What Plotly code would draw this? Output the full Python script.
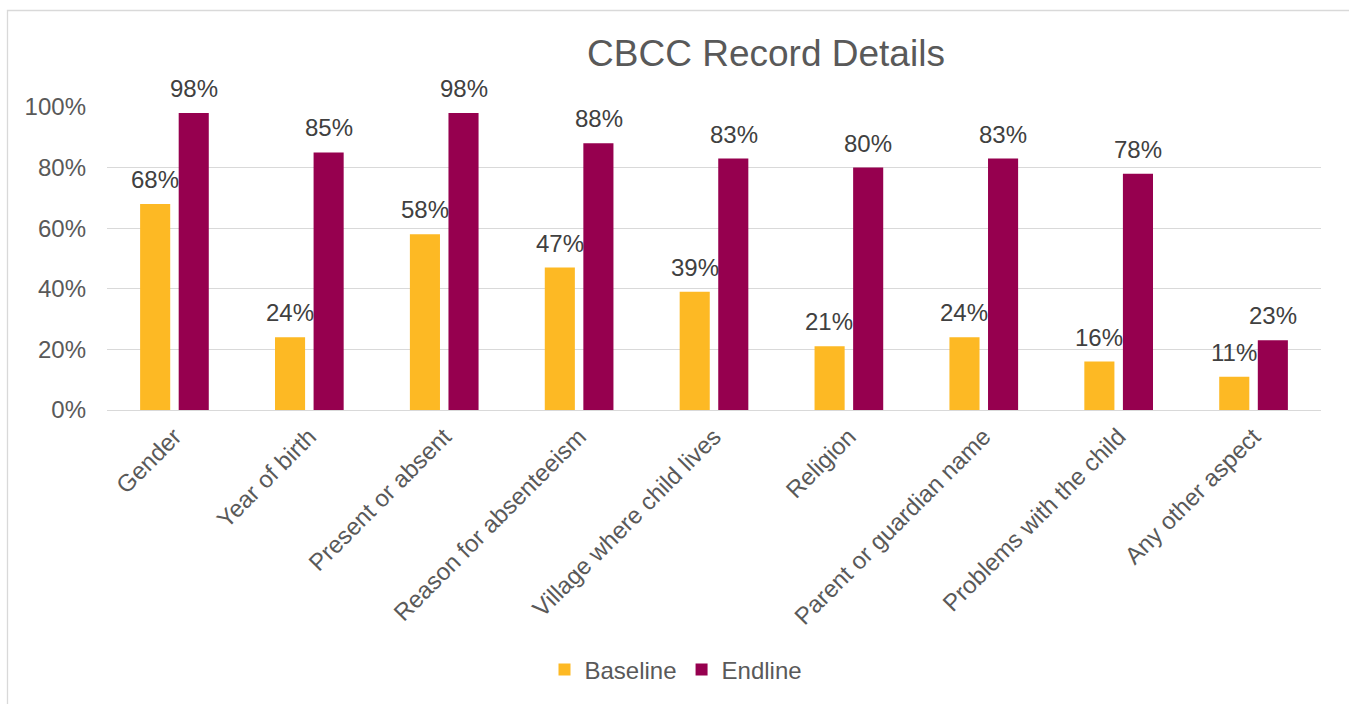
import plotly.graph_objects as go

categories = [
    "Gender", "Year of birth", "Present or absent", "Reason for absenteeism",
    "Village where child lives", "Religion", "Parent or guardian name",
    "Problems with the child", "Any other aspect",
]
baseline = [0.68, 0.24, 0.58, 0.47, 0.39, 0.21, 0.24, 0.16, 0.11]
endline = [0.98, 0.85, 0.98, 0.88, 0.83, 0.80, 0.83, 0.78, 0.23]
y_ticks = [0, 0.2, 0.4, 0.6, 0.8, 1.0]
y_tick_labels = ["0%", "20%", "40%", "60%", "80%", "100%"]

FONT = "Liberation Sans, Arial, sans-serif"
BASE_COLOR = "#FDB924"
END_COLOR = "#96004F"

W, H = 1349, 704
M_L, M_R, M_T, M_B = 107, 28, 107, 294
PW, PH = W - M_L - M_R, H - M_T - M_B

fig = go.Figure()
fig.add_trace(go.Bar(name="Baseline", x=categories, y=baseline,
                     marker=dict(color=BASE_COLOR, line=dict(width=0))))
fig.add_trace(go.Bar(name="Endline", x=categories, y=endline,
                     marker=dict(color=END_COLOR, line=dict(width=0))))

# value labels above each bar, shifted onto their bar within the group
annotations = []
for series, shift in ((baseline, -19.5), (endline, 19.5)):
    for cat, v in zip(categories, series):
        annotations.append(dict(
            x=cat, y=v, xref="x", yref="y", text=f"{round(v * 100)}%",
            showarrow=False, xanchor="center", yanchor="bottom",
            xshift=shift, yshift=9,
            font=dict(family=FONT, size=24, color="#404040"),
        ))

# thin outer frame of the chart area
def px_x(p):
    return (p - M_L) / PW

def px_y(p):
    return (H - M_B - p) / PH

shapes = [dict(type="rect", xref="paper", yref="paper",
               x0=px_x(7.5), x1=px_x(1370), y0=px_y(10.5), y1=px_y(730),
               line=dict(color="#D9D9D9", width=1.3), fillcolor="rgba(0,0,0,0)",
               layer="below")]

fig.update_layout(
    width=W, height=H,
    margin=dict(l=M_L, r=M_R, t=M_T, b=M_B, autoexpand=False),
    paper_bgcolor="white", plot_bgcolor="white",
    font=dict(family=FONT, size=24, color="#595959"),
    title=dict(text="CBCC Record Details", x=px_x(766), xanchor="center",
               xref="paper", y=1 - 53 / H, yanchor="middle",
               font=dict(family=FONT, size=37, color="#595959")),
    barmode="group", bargap=0.428, bargroupgap=0.22,
    showlegend=True,
    legend=dict(orientation="h", x=px_x(676), xanchor="center",
                y=px_y(670), yanchor="middle",
                font=dict(family=FONT, size=24, color="#595959"),
                bgcolor="rgba(0,0,0,0)"),
    annotations=annotations,
    shapes=shapes,
)
fig.update_xaxes(tickangle=-45, showgrid=False, showline=True,
                 linecolor="#D9D9D9", linewidth=1.3, ticks="",
                 ticklabelstandoff=2,
                 tickfont=dict(family=FONT, size=24, color="#595959"))
fig.update_yaxes(range=[0, 1.0], tickvals=y_ticks, ticktext=y_tick_labels,
                 showgrid=True, gridcolor="#D9D9D9", gridwidth=1.3,
                 zeroline=False, showline=False, ticks="",
                 ticklabelstandoff=20,
                 tickfont=dict(family=FONT, size=24, color="#595959"))

fig.write_html("out.html")
